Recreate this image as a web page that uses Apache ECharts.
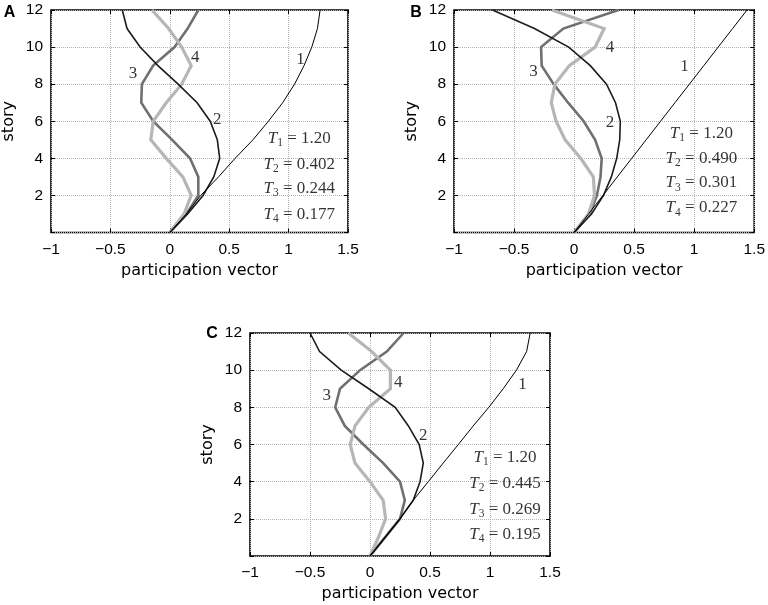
<!DOCTYPE html>
<html>
<head>
<meta charset="utf-8">
<style>
html, body { margin: 0; padding: 0; background: #fff; }
#chart { width: 768px; height: 605px; }
</style>
<script src="https://cdn.jsdelivr.net/npm/echarts@6/dist/echarts.min.js"></script>
</head>
<body>
<div id="chart"></div>
<script>
var stories = [0, 1, 2, 3, 4, 5, 6, 7, 8, 9, 10, 11, 12];
var xTickValues = [-1, -0.5, 0, 0.5, 1, 1.5];
var xTickLabels = ['\u22121', '\u22120.5', '0', '0.5', '1', '1.5'];
var yTickValues = [0, 2, 4, 6, 8, 10, 12];
var yTickLabels = ['', '2', '4', '6', '8', '10', '12'];

// panel A
var modeA1 = [0, 0.138, 0.26, 0.41, 0.55, 0.70, 0.83, 0.95, 1.05, 1.13, 1.195, 1.243, 1.265];
var modeA2 = [0, 0.15, 0.28, 0.37, 0.42, 0.40, 0.34, 0.23, 0.07, -0.10, -0.25, -0.36, -0.40];
var modeA3 = [0, 0.14, 0.24, 0.24, 0.17, 0.02, -0.14, -0.24, -0.235, -0.14, 0.04, 0.15, 0.24];
var modeA4 = [0, 0.12, 0.18, 0.11, -0.03, -0.16, -0.14, -0.03, 0.10, 0.18, 0.10, -0.01, -0.15];
var periodsA = ['1.20', '0.402', '0.244', '0.177'];

// panel B
var modeB1 = [0, 0.12, 0.24, 0.36, 0.48, 0.60, 0.72, 0.84, 0.96, 1.08, 1.20, 1.32, 1.44];
var modeB2 = [0, 0.145, 0.245, 0.31, 0.355, 0.38, 0.385, 0.345, 0.27, 0.135, -0.045, -0.33, -0.68];
var modeB3 = [0, 0.13, 0.19, 0.22, 0.23, 0.175, 0.08, -0.05, -0.17, -0.27, -0.275, -0.09, 0.37];
var modeB4 = [0, 0.12, 0.17, 0.16, 0.055, -0.075, -0.15, -0.19, -0.16, -0.04, 0.175, 0.25, -0.185];
var periodsB = ['1.20', '0.490', '0.301', '0.227'];

// panel C
var modeC1 = [0, 0.125, 0.25, 0.36, 0.486, 0.61, 0.736, 0.86, 0.99, 1.11, 1.22, 1.305, 1.335];
var modeC2 = [0, 0.125, 0.25, 0.36, 0.417, 0.444, 0.41, 0.32, 0.21, -0.01, -0.24, -0.42, -0.50];
var modeC3 = [0, 0.125, 0.25, 0.29, 0.25, 0.11, -0.055, -0.21, -0.29, -0.25, -0.083, 0.14, 0.28];
var modeC4 = [0, 0.07, 0.13, 0.11, 0.0, -0.125, -0.165, -0.125, -0.01, 0.17, 0.17, 0.015, -0.18];
var periodsC = ['1.20', '0.445', '0.269', '0.195'];

var panels = [
    {
        letter: 'A', letterPos: [9.5, 12.5],
        grid: { left: 46, top: 10, width: 302, height: 222.5 },
        modes: [modeA1, modeA2, modeA3, modeA4], periods: periodsA,
        yGap: 34, xGap: 30,
        numPos: [[1.10, 9.32], [0.40, 6.08], [-0.31, 8.6], [0.215, 9.41]],
        tX: 1.09, tY: [5.09, 3.69, 2.39, 0.99]
    },
    {
        letter: 'B', letterPos: [416, 13],
        grid: { left: 454, top: 10, width: 301, height: 222.5 },
        modes: [modeB1, modeB2, modeB3, modeB4], periods: periodsB,
        yGap: 34, xGap: 30,
        numPos: [[0.92, 8.96], [0.30, 5.95], [-0.338, 8.69], [0.30, 9.95]],
        tX: 1.06, tY: [5.36, 4.01, 2.67, 1.32]
    },
    {
        letter: 'C', letterPos: [212, 333.5],
        grid: { left: 250, top: 333, width: 300, height: 223 },
        modes: [modeC1, modeC2, modeC3, modeC4], periods: periodsC,
        yGap: 34, xGap: 30,
        numPos: [[1.27, 9.24], [0.444, 6.46], [-0.36, 8.62], [0.236, 9.33]],
        tX: 1.125, tY: [5.29, 3.90, 2.5, 1.15]
    }
];

var modeStyles = [
    { color: '#000000', width: 1 },
    { color: '#1c1c1c', width: 1.6 },
    { color: '#707070', width: 2.6 },
    { color: '#b6b6b6', width: 3.2 }
];
var drawOrder = [2, 3, 1, 0];

var tickFont = 'Liberation Sans';
var titleFont = 'DejaVu Sans';
var serif = 'Liberation Serif';

function pairs(xs) {
    return xs.map(function(x, k) { return [x, stories[k]]; });
}

var grids = [], xAxes = [], yAxes = [], series = [], graphics = [];

panels.forEach(function(p, i) {
    grids.push(Object.assign({ show: true, borderColor: '#000', borderWidth: 1.6, backgroundColor: '#fff' }, p.grid));

    var xBase = {
        type: 'value', gridIndex: i, min: -1, max: 1.5, interval: 0.5,
        axisLine: { show: false, onZero: false },
        axisTick: { show: true, inside: true, length: 4, lineStyle: { color: '#000' } }
    };
    xAxes.push(Object.assign({}, xBase, {
        position: 'bottom',
        name: 'participation vector', nameLocation: 'middle', nameGap: p.xGap,
        nameTextStyle: { fontFamily: titleFont, fontSize: 16, color: '#000' },
        axisLabel: {
            color: '#000', fontFamily: tickFont, fontSize: 15.5, margin: 9,
            formatter: function(v) { return xTickLabels[xTickValues.indexOf(v)]; }
        },
        splitLine: { show: true, lineStyle: { type: 'dotted', color: '#b4b4b4', width: 1 } }
    }));
    xAxes.push(Object.assign({}, xBase, {
        position: 'top', axisLabel: { show: false }, splitLine: { show: false }
    }));

    var yBase = {
        type: 'value', gridIndex: i, min: 0, max: 12, interval: 2,
        axisLine: { show: false, onZero: false },
        axisTick: { show: true, inside: true, length: 4, lineStyle: { color: '#000' } }
    };
    yAxes.push(Object.assign({}, yBase, {
        position: 'left',
        name: 'story', nameLocation: 'middle', nameGap: p.yGap, nameRotate: 90,
        nameTextStyle: { fontFamily: titleFont, fontSize: 16, color: '#000' },
        axisLabel: {
            color: '#000', fontFamily: tickFont, fontSize: 15.5, margin: 8,
            formatter: function(v) { return yTickLabels[yTickValues.indexOf(v)]; }
        },
        splitLine: { show: true, lineStyle: { type: 'dotted', color: '#b4b4b4', width: 1 } }
    }));
    yAxes.push(Object.assign({}, yBase, {
        position: 'right', axisLabel: { show: false }, splitLine: { show: false }
    }));

    drawOrder.forEach(function(m) {
        series.push({
            type: 'line', name: p.letter + (m + 1),
            xAxisIndex: 2 * i, yAxisIndex: 2 * i,
            data: pairs(p.modes[m]),
            showSymbol: false, symbol: 'none', silent: true,
            lineStyle: { color: modeStyles[m].color, width: modeStyles[m].width, join: 'miter' }
        });
    });

    var labels = [];
    p.numPos.forEach(function(pos, k) {
        labels.push({ value: pos, label: { formatter: String(k + 1) } });
    });
    p.periods.forEach(function(t, k) {
        labels.push({
            value: [p.tX, p.tY[k]],
            label: { formatter: '{t|T}{s|' + (k + 1) + '}{e| = ' + t + '}' }
        });
    });
    series.push({
        type: 'scatter', xAxisIndex: 2 * i, yAxisIndex: 2 * i,
        symbolSize: 1, silent: true, z: 5,
        itemStyle: { color: 'rgba(0,0,0,0)' },
        data: labels,
        label: {
            show: true, position: 'inside', color: '#000',
            fontFamily: serif, fontSize: 17,
            rich: {
                t: { fontFamily: serif, fontStyle: 'italic', fontSize: 17, lineHeight: 21, color: '#000' },
                s: { fontFamily: serif, fontSize: 11.5, verticalAlign: 'bottom', color: '#000' },
                e: { fontFamily: serif, fontSize: 17, lineHeight: 21, color: '#000' }
            }
        }
    });

    graphics.push({
        type: 'text', x: p.letterPos[0], y: p.letterPos[1],
        style: { text: p.letter, font: 'bold 16px "Liberation Sans"', fill: '#000', align: 'center', verticalAlign: 'middle' }
    });
});

var chart = echarts.init(document.getElementById('chart'));
chart.setOption({
    animation: false,
    backgroundColor: '#fff',
    grid: grids,
    xAxis: xAxes,
    yAxis: yAxes,
    series: series,
    graphic: graphics
});
</script>
</body>
</html>
